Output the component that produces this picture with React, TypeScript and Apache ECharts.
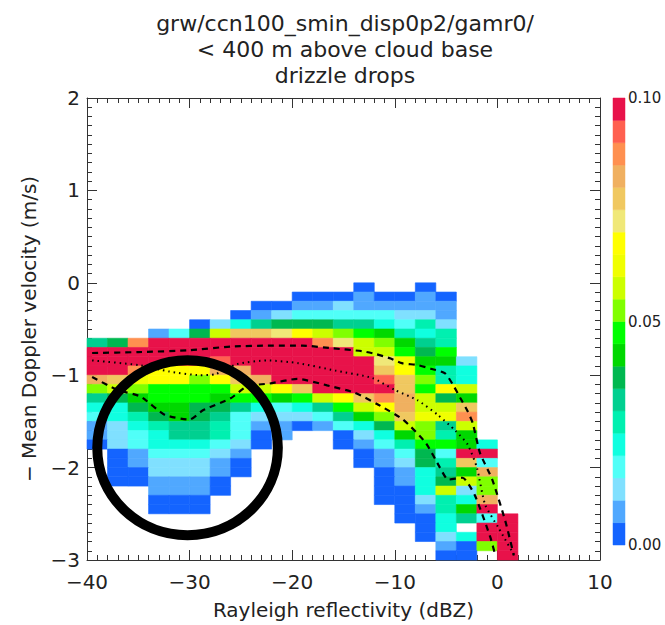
import React, { useEffect, useRef } from 'react';
import * as echarts from 'echarts';

// Reflectivity bins (left edges, dBZ) and velocity bins (bottom edges, m/s, rows listed top to bottom)
const reflectivityBinLeft = [-40, -38, -36, -34, -32, -30, -28, -26, -24, -22, -20, -18, -16, -14, -12, -10, -8, -6, -4, -2, 0];
const reflectivityBinWidth = 2;
const velocityBinBottom = [-0.1, -0.2, -0.3, -0.4, -0.5, -0.6, -0.7, -0.8, -0.9, -1.0, -1.1, -1.2, -1.3, -1.4, -1.5, -1.6, -1.7, -1.8, -1.9, -2.0, -2.1, -2.2, -2.3, -2.4, -2.5, -2.6, -2.7, -2.8, -2.9, -3.0];
const velocityBinHeight = 0.1;

const _ = null;
// Frequency of drizzle drops in each bin (rows follow velocityBinBottom, columns follow reflectivityBinLeft)
const frequency: (number | null)[][] = [
  [_, _, _, _, _, _, _, _, _, _, _, _, _, .003, _, _, .003, _, _, _, _],
  [_, _, _, _, _, _, _, _, _, _, .003, .003, .003, .008, .003, .003, .008, .003, _, _, _],
  [_, _, _, _, _, _, _, _, .003, .003, .008, .008, .013, .008, .008, .008, .008, .008, _, _, _],
  [_, _, _, _, _, _, _, .003, .008, .013, .018, .018, .018, .018, .018, .013, .013, .008, _, _, _],
  [_, _, _, _, _, .003, .013, .023, .033, .038, .038, .038, .033, .033, .023, .018, .028, .013, _, _, _],
  [_, _, _, .008, .018, .038, .058, .078, .078, .073, .068, .058, .053, .048, .043, .028, .023, .028, _, _, _],
  [.033, .038, .088, .11, .11, .11, .11, .11, .11, .11, .11, .088, .073, .058, .053, .043, .033, .028, _, _, _],
  [.11, .11, .11, .11, .11, .11, .11, .11, .11, .11, .11, .11, .11, .058, .058, .048, .038, .048, _, _, _],
  [.11, .11, .11, .11, .11, .11, .093, .11, .11, .11, .11, .11, .11, .11, .073, .063, .043, .043, .013, _, _],
  [.11, .11, .088, .068, .068, .068, .083, .083, .11, .11, .11, .11, .11, .11, .078, .068, .048, .028, .023, _, _],
  [.083, .078, .063, .068, .068, .053, .068, .078, .083, .11, .11, .11, .11, .11, .093, .078, .053, .028, .023, _, _],
  [.053, .058, .053, .048, .048, .048, .048, .058, .058, .068, .078, .11, .11, .11, .11, .078, .048, .068, .058, _, _],
  [.033, .038, .043, .048, .048, .048, .043, .048, .048, .043, .048, .058, .068, .078, .088, .083, .058, .038, .043, _, _],
  [.023, .023, .038, .043, .043, .038, .038, .033, .023, .018, .023, .033, .048, .058, .068, .083, .058, .058, .078, _, _],
  [.018, .023, .028, .038, .043, .038, .033, .018, .013, .013, .013, .018, .033, .043, .053, .078, .063, .063, .088, _, _],
  [.008, .013, .023, .028, .033, .033, .028, .018, .008, .008, .003, .008, .018, .023, .038, .058, .053, .033, .058, _, _],
  [.008, .013, .018, .023, .033, .033, .028, .018, .003, .008, _, _, .003, .013, .023, .043, .053, .028, .043, _, _],
  [.003, .013, .018, .023, .023, .023, .018, .013, .003, _, _, _, .003, .008, .018, .028, .048, .048, .043, .023, _],
  [_, .003, .008, .018, .018, .018, .013, .008, _, _, _, _, _, .003, .008, .018, .038, .018, .11, .11, _],
  [_, .003, .008, .013, .013, .013, .008, .003, _, _, _, _, _, .003, .008, .013, .038, .028, .078, .018, _],
  [_, .003, .003, .013, .013, .013, .008, .003, _, _, _, _, _, _, .003, .008, .023, .033, .043, .083, _],
  [_, .003, .003, .008, .008, .008, .003, _, _, _, _, _, _, _, .003, .008, .023, .038, .058, .053, _],
  [_, _, _, .008, .008, .008, .003, _, _, _, _, _, _, _, .003, .003, .023, .058, .013, .053, _],
  [_, _, _, .003, .003, .003, _, _, _, _, _, _, _, _, .003, .003, .013, .028, .023, .083, _],
  [_, _, _, .003, .003, .003, _, _, _, _, _, _, _, _, _, .003, .008, .028, .043, .11, _],
  [_, _, _, _, _, _, _, _, _, _, _, _, _, _, _, .003, .003, .023, .033, .018, .11],
  [_, _, _, _, _, _, _, _, _, _, _, _, _, _, _, _, .003, .023, _, .11, .11],
  [_, _, _, _, _, _, _, _, _, _, _, _, _, _, _, _, .003, .013, .023, .11, .11],
  [_, _, _, _, _, _, _, _, _, _, _, _, _, _, _, _, _, .008, .003, .053, .11],
  [_, _, _, _, _, _, _, _, _, _, _, _, _, _, _, _, _, .003, .003, _, .11],
];

// Overlaid curves [dBZ, m/s]
const upperDashed = [[-39.5, -0.76], [-35, -0.75], [-30, -0.73], [-26, -0.69], [-22, -0.68], [-19, -0.68], [-16, -0.71], [-13.2, -0.74], [-11.9, -0.77], [-10.4, -0.82], [-9.3, -0.87], [-7.8, -0.89], [-6.5, -0.93], [-5.1, -0.98], [-4.3, -1.11], [-3.6, -1.25], [-2.9, -1.39], [-2.4, -1.52], [-1.7, -1.84], [-0.5, -2.13], [0.8, -2.59], [1.6, -2.95]];
const meanDotted = [[-39.5, -0.84], [-35, -0.89], [-32, -0.96], [-29, -1.0], [-27.5, -0.99], [-25.4, -0.88], [-22.4, -0.84], [-19.4, -0.87], [-15.8, -0.95], [-12.2, -1.03], [-10, -1.16], [-7.8, -1.27], [-5.8, -1.43], [-4.1, -1.6], [-2.9, -1.75], [-2, -2.0], [-1.2, -2.4], [0.1, -2.65], [1.6, -2.94]];
const lowerDashed = [[-39.5, -1.02], [-37, -1.16], [-34.8, -1.23], [-32.4, -1.43], [-30, -1.48], [-28.7, -1.38], [-26, -1.25], [-24.4, -1.12], [-22.2, -1.09], [-19.5, -1.04], [-16.6, -1.11], [-13.9, -1.19], [-11.6, -1.32], [-9.2, -1.48], [-7, -1.73], [-5.6, -2.0], [-4.8, -2.13], [-3.4, -2.11], [-2.2, -2.3], [-0.7, -2.75], [-0.2, -2.95]];

// Circled region: centre dBZ, centre m/s, radius dBZ, radius m/s
const circleAnnotation = [[-30.2, -1.785, 8.8, 0.946]];

// Colour table
const colorEdges = [0, 0.005, 0.01, 0.015, 0.02, 0.025, 0.03, 0.035, 0.04, 0.045, 0.05, 0.055, 0.06, 0.065, 0.07, 0.075, 0.08, 0.085, 0.09, 0.095, 0.1];
const colorScale = ['#1464FF', '#50A8FF', '#80E0FF', '#50FFF8', '#10FFE0', '#00F0B0', '#00D090', '#00B850', '#00D800', '#00FF00', '#80FF00', '#CCFF00', '#F0FF00', '#FFFF00', '#F0E878', '#F0C860', '#F0B060', '#FF9050', '#FF6050', '#E8124A'];
const colorbarTicks = [0, 0.05, 0.1];

const titleLines = ['grw/ccn100_smin_disp0p2/gamr0/', '< 400 m above cloud base', 'drizzle drops'];

const FONT = 'DejaVu Sans';
const TXT = '#222';
const AX = '#333';

const fmtNum = (v: number) => (v < 0 ? '\u2212' + Math.abs(v) : String(v));

export default function App() {
  const ref = useRef<HTMLDivElement>(null);
  useEffect(() => {
    document.body.style.margin = '0';
    const chart = echarts.init(ref.current!, null, { renderer: 'svg' });

    const cells: number[][] = [];
    frequency.forEach((row, r) => {
      row.forEach((val, c) => {
        if (val !== null) cells.push([reflectivityBinLeft[c], velocityBinBottom[r], val]);
      });
    });
    const colorbarCells: number[][] = [];
    for (let i = 0; i < colorScale.length; i++) {
      colorbarCells.push([colorEdges[i], colorEdges[i + 1], (colorEdges[i] + colorEdges[i + 1]) / 2]);
    }
    const pieces = colorScale.map((color, i) =>
      i === colorScale.length - 1 ? { gte: colorEdges[i], color } : { gte: colorEdges[i], lt: colorEdges[i + 1], color }
    );

    const mainX = (pos: 'bottom' | 'top') => ({
      type: 'value', gridIndex: 0, min: -40, max: 10, interval: 10, position: pos,
      axisLine: { onZero: false, lineStyle: { color: AX, width: 1 } },
      axisTick: { inside: true, length: 10, lineStyle: { color: AX } },
      minorTick: { show: true, splitNumber: 10, length: 5, lineStyle: { color: AX } },
      splitLine: { show: false },
      axisLabel: pos === 'bottom'
        ? { formatter: fmtNum, fontSize: 20, color: TXT, fontFamily: FONT, margin: 12 }
        : { show: false },
      name: pos === 'bottom' ? 'Rayleigh reflectivity (dBZ)' : '',
      nameLocation: 'middle', nameGap: 40,
      nameTextStyle: { fontSize: 20, color: TXT, fontFamily: FONT },
    });
    const mainY = (pos: 'left' | 'right') => ({
      type: 'value', gridIndex: 0, min: -3, max: 2, interval: 1, position: pos,
      axisLine: { onZero: false, lineStyle: { color: AX, width: 1 } },
      axisTick: { inside: true, length: 10, lineStyle: { color: AX } },
      minorTick: { show: true, splitNumber: 10, length: 5, lineStyle: { color: AX } },
      splitLine: { show: false },
      axisLabel: pos === 'left'
        ? { formatter: fmtNum, fontSize: 20, color: TXT, fontFamily: FONT, margin: 7 }
        : { show: false },
      name: pos === 'left' ? '\u2212 Mean Doppler velocity (m/s)' : '',
      nameLocation: 'middle', nameGap: 48, nameRotate: 90,
      nameTextStyle: { fontSize: 20, color: TXT, fontFamily: FONT },
    });

    const option: any = {
      animation: false,
      backgroundColor: '#fff',
      title: {
        text: titleLines.join('\n'),
        left: 340, top: 5, textAlign: 'center',
        textStyle: { fontSize: 22, fontWeight: 'normal', color: TXT, fontFamily: FONT, lineHeight: 26 },
      },
      grid: [
        { left: 87, top: 98, width: 513, height: 465 },
        { left: 613, top: 98, width: 12, height: 447 },
      ],
      xAxis: [
        mainX('bottom'),
        mainX('top'),
        { type: 'value', gridIndex: 1, min: 0, max: 1, show: false },
      ],
      yAxis: [
        mainY('left'),
        mainY('right'),
        {
          type: 'value', gridIndex: 1, min: 0, max: 0.1, interval: 0.05, position: 'right',
          axisLine: { show: false }, axisTick: { show: false }, splitLine: { show: false },
          axisLabel: {
            formatter: (v: number) => (colorbarTicks.includes(Math.round(v * 100) / 100) ? v.toFixed(2) : ''),
            fontSize: 15, color: TXT, fontFamily: FONT, margin: 3,
          },
        },
      ],
      visualMap: {
        type: 'piecewise', show: false, dimension: 2, seriesIndex: [0, 1], pieces,
      },
      series: [
        {
          type: 'custom', xAxisIndex: 0, yAxisIndex: 0, z: 1,
          data: cells,
          encode: { x: 0, y: 1 },
          renderItem: (params: any, api: any) => {
            const x0 = api.value(0);
            const y0 = api.value(1);
            const p0 = api.coord([x0, y0 + velocityBinHeight]);
            const p1 = api.coord([x0 + reflectivityBinWidth, y0]);
            const color = api.visual('color');
            return {
              type: 'rect',
              shape: { x: p0[0], y: p0[1], width: p1[0] - p0[0], height: p1[1] - p0[1] },
              style: { fill: color, stroke: color, lineWidth: 0.6 },
            };
          },
        },
        {
          type: 'custom', xAxisIndex: 2, yAxisIndex: 2, z: 1,
          data: colorbarCells,
          encode: { y: [0, 1] },
          renderItem: (params: any, api: any) => {
            const p0 = api.coord([0, api.value(1)]);
            const p1 = api.coord([1, api.value(0)]);
            const color = api.visual('color');
            return {
              type: 'rect',
              shape: { x: p0[0], y: p0[1], width: p1[0] - p0[0], height: p1[1] - p0[1] },
              style: { fill: color, stroke: color, lineWidth: 0.5 },
            };
          },
        },
        {
          type: 'line', xAxisIndex: 0, yAxisIndex: 0, z: 3, data: upperDashed, showSymbol: false, smooth: 0.2,
          lineStyle: { color: '#000', width: 2.2, type: [6, 5] }, silent: true,
        },
        {
          type: 'line', xAxisIndex: 0, yAxisIndex: 0, z: 3, data: meanDotted, showSymbol: false, smooth: 0.2,
          lineStyle: { color: '#000', width: 2, type: [1.5, 4] }, silent: true,
        },
        {
          type: 'line', xAxisIndex: 0, yAxisIndex: 0, z: 3, data: lowerDashed, showSymbol: false, smooth: 0.2,
          lineStyle: { color: '#000', width: 2.2, type: [6, 5] }, silent: true,
        },
        {
          type: 'custom', xAxisIndex: 0, yAxisIndex: 0, z: 5,
          data: circleAnnotation,
          encode: { x: 0, y: 1 },
          renderItem: (params: any, api: any) => {
            const c = api.coord([api.value(0), api.value(1)]);
            const s = api.size([api.value(2), api.value(3)]);
            return {
              type: 'ellipse',
              shape: { cx: c[0], cy: c[1], rx: s[0], ry: s[1] },
              style: { fill: 'none', stroke: '#000', lineWidth: 10 },
            };
          },
        },
      ],
    };
    chart.setOption(option);
    return () => chart.dispose();
  }, []);
  return <div ref={ref} style={{ width: 665, height: 625 }} />;
}
